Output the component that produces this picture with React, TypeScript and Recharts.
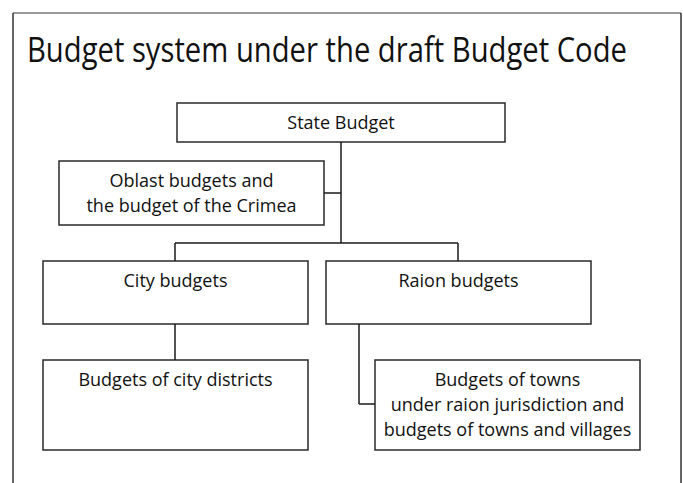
import { useLayoutEffect, useRef, useState } from 'react';
import { ScatterChart, Scatter, XAxis, YAxis, ReferenceArea, ReferenceLine } from 'recharts';

const title = 'Budget system under the draft Budget Code';

// boxes of the budget tree, in chart units (x: 0..683, y: 0..483 top-down)
const nodeLabels = [
  ['State Budget'],
  ['Oblast budgets and', 'the budget of the Crimea'],
  ['City budgets'],
  ['Raion budgets'],
  ['Budgets of city districts'],
  ['Budgets of towns', 'under raion jurisdiction and', 'budgets of towns and villages'],
];
const nodeLeft = [177, 59, 43, 326, 43, 375];
const nodeRight = [505, 324, 308, 591, 308, 640];
const nodeTop = [103, 161, 261, 261, 360, 360];
const nodeBottom = [142, 225, 324, 324, 450, 450];

// connector segments [x1, y1, x2, y2]
const links = [
  [341, 142, 341, 243],
  [324, 193, 341, 193],
  [175, 243, 458, 243],
  [175, 243, 175, 261],
  [458, 243, 458, 261],
  [175, 324, 175, 360],
  [359, 324, 359, 404],
  [359, 404, 375, 404],
];

// outer frame
const frame = [
  [13, 13, 681, 13],
  [13, 13, 13, 483],
  [681, 13, 681, 483],
];

const FONT = "'Open Sans', 'DejaVu Sans', sans-serif";
const TITLE_WIDTH = 600;

const labelPoints = nodeLabels.map((lines, i) => ({
  x: (nodeLeft[i] + nodeRight[i]) / 2,
  y: nodeTop[i],
  lines,
}));
const titlePoint = [{ x: 27, y: 62, text: title }];

function NodeText(props: any) {
  const { cx, cy, payload } = props;
  return (
    <text x={cx} y={cy + 26} textAnchor="middle" fontFamily={FONT} fontSize={18} fill="#111">
      {payload.lines.map((l: string, i: number) => (
        <tspan key={i} x={cx} dy={i === 0 ? 0 : 25}>{l}</tspan>
      ))}
    </text>
  );
}

// the original uses a condensed face; squeeze the title to its width
function TitleText(props: any) {
  const { cx, cy, payload } = props;
  const ref = useRef<SVGTextElement>(null);
  const [sx, setSx] = useState(0.8);
  useLayoutEffect(() => {
    if (ref.current) {
      const len = ref.current.getComputedTextLength();
      if (len > 0) setSx(TITLE_WIDTH / len);
    }
  }, []);
  return (
    <text
      ref={ref}
      x={0}
      y={0}
      transform={`translate(${cx},${cy}) scale(${sx},1)`}
      fontFamily={FONT}
      fontSize={35}
      fill="#111"
    >
      {payload.text}
    </text>
  );
}

export default function App() {
  return (
    <div style={{ position: 'absolute', left: 0, top: 0, width: 683, height: 483, background: '#fff' }}>
      <ScatterChart width={683} height={483} margin={{ top: 0, right: 0, bottom: 0, left: 0 }}>
        <XAxis type="number" dataKey="x" domain={[0, 683]} allowDataOverflow hide />
        <YAxis type="number" dataKey="y" domain={[0, 483]} reversed allowDataOverflow hide />
        {frame.map((f, i) => (
          <ReferenceLine
            key={'f' + i}
            segment={[{ x: f[0], y: f[1] }, { x: f[2], y: f[3] }]}
            stroke={i === 0 ? '#777' : '#333'}
            strokeWidth={1.5}
            ifOverflow="visible"
          />
        ))}
        {links.map((s, i) => (
          <ReferenceLine
            key={'l' + i}
            segment={[{ x: s[0], y: s[1] }, { x: s[2], y: s[3] }]}
            stroke="#1a1a1a"
            strokeWidth={1.5}
            ifOverflow="visible"
          />
        ))}
        {nodeLabels.map((_, i) => (
          <ReferenceArea
            key={'n' + i}
            x1={nodeLeft[i]}
            x2={nodeRight[i]}
            y1={nodeTop[i]}
            y2={nodeBottom[i]}
            fill="#fff"
            fillOpacity={1}
            stroke="#2a2a2a"
            strokeWidth={1.5}
            ifOverflow="visible"
          />
        ))}
        <Scatter data={titlePoint} shape={(p: any) => <TitleText {...p} />} isAnimationActive={false} />
        <Scatter data={labelPoints} shape={NodeText} isAnimationActive={false} />
      </ScatterChart>
    </div>
  );
}
